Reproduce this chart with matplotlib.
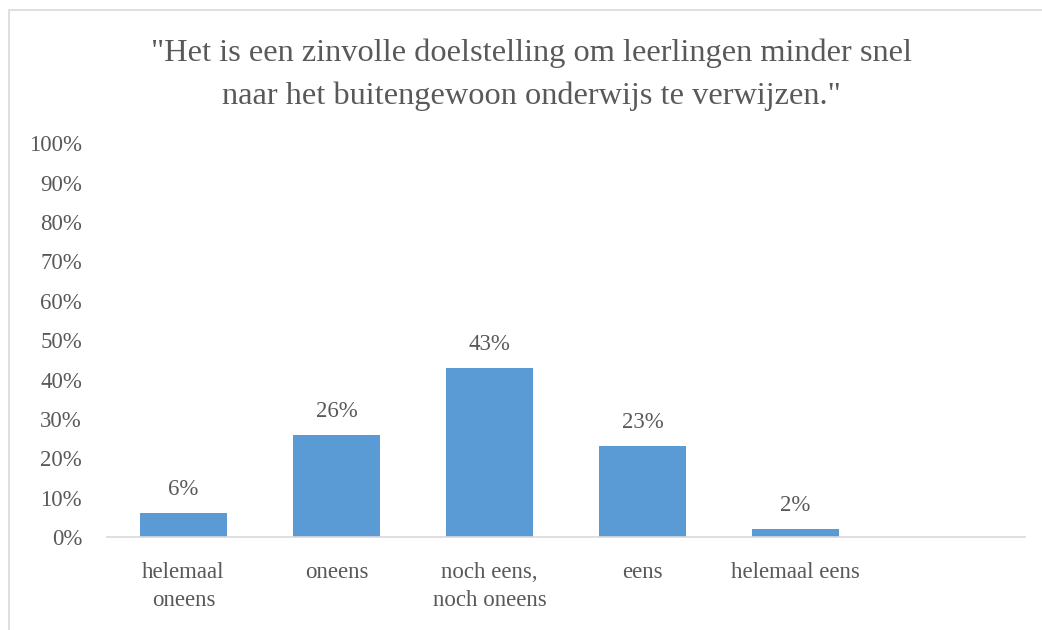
import matplotlib.pyplot as plt
from matplotlib.patches import Rectangle
from matplotlib.ticker import PercentFormatter

plt.rcParams['font.family'] = ['Liberation Serif', 'DejaVu Serif']

categories = ['helemaal\noneens', 'oneens', 'noch eens,\nnoch oneens', 'eens', 'helemaal eens']
shares = [6, 26, 43, 23, 2]
title = '"Het is een zinvolle doelstelling om leerlingen minder snel\nnaar het buitengewoon onderwijs te verwijzen."'

text_color = '#595959'
bar_color = '#5b9bd5'

fig = plt.figure(figsize=(10.42, 6.30), dpi=100)
# chart frame
fig.patches.append(Rectangle((9 / 1042, -0.1), 1.2, 1 - 10 / 630 + 0.1,
                             transform=fig.transFigure, fill=False,
                             edgecolor='#d9d9d9', linewidth=1.2))

ax = fig.add_axes([0.1027, 0.1476, 0.881, 0.625])
x = range(len(categories))
bars = ax.bar(x, shares, width=0.57, color=bar_color)

for b, v in zip(bars, shares):
    ax.text(b.get_x() + b.get_width() / 2, v + 3.3, f'{v:.0f}%',
            ha='center', va='bottom', fontsize=16.5, color=text_color)

ax.set_xlim(-0.5, 5.5)
ax.set_ylim(0, 100)
ax.set_yticks(range(0, 101, 10))
ax.yaxis.set_major_formatter(PercentFormatter(decimals=0))
ax.set_xticks(list(x))
ax.set_xticklabels(categories, fontsize=16.5, color=text_color, linespacing=1.45)
ax.tick_params(axis='y', length=0, labelsize=16.5, labelcolor=text_color, pad=18)
ax.tick_params(axis='x', length=0, pad=18)

for side in ['top', 'right', 'left']:
    ax.spines[side].set_visible(False)
ax.spines['bottom'].set_color('#d9d9d9')
ax.spines['bottom'].set_linewidth(1.2)

fig.text(0.51, 0.882, title, ha='center', va='center', fontsize=23.3,
         color=text_color, linespacing=1.6)

fig.savefig('out.png', dpi=100)
